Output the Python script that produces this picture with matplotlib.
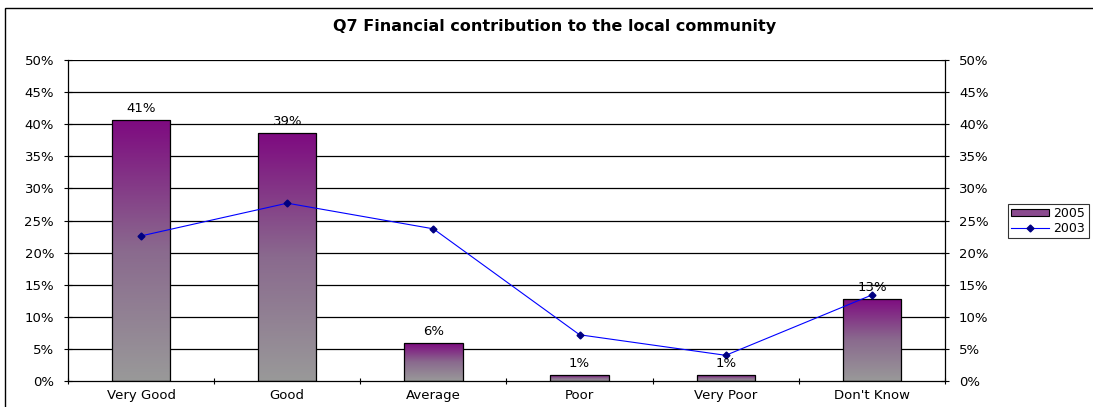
import numpy as np
import matplotlib
matplotlib.use("Agg")
import matplotlib.pyplot as plt
from matplotlib.patches import Rectangle
from matplotlib.lines import Line2D
from matplotlib.colors import LinearSegmentedColormap

categories = ["Very Good", "Good", "Average", "Poor", "Very Poor", "Don't Know"]
values_2005 = [40.6, 38.6, 5.9, 0.9, 0.9, 12.8]
labels_2005 = ["41%", "39%", "6%", "1%", "1%", "13%"]
values_2003 = [22.6, 27.7, 23.7, 7.2, 4.0, 13.4]
yticks = [0, 5, 10, 15, 20, 25, 30, 35, 40, 45, 50]

plt.rcParams["font.family"] = ["DejaVu Sans"]
FS = 9.5

W, H = 1093, 407
fig = plt.figure(figsize=(W / 100, H / 100), dpi=100)
ax = fig.add_axes([68 / W, 1 - 381 / H, (945 - 68) / W, (381 - 60) / H])

# outer chart frame
fig.patches.append(Rectangle((5 / W, -0.05), 1.0, 1 - 8 / H + 0.05,
                             transform=fig.transFigure, fill=False,
                             edgecolor="black", linewidth=1.0))

x = np.arange(len(categories))
bw = 0.4
grad = LinearSegmentedColormap.from_list("pg", ["#999999", "#8a6a8e", "#7e0a80"])
gimg = np.linspace(0, 1, 256).reshape(-1, 1)

for yv in yticks[1:]:
    ax.axhline(yv, color="black", linewidth=0.9, zorder=1)

bars = ax.bar(x, values_2005, width=bw, facecolor="none", edgecolor="black",
              linewidth=0.9, zorder=3)
for b, lab in zip(bars, labels_2005):
    x0, y0 = b.get_x(), b.get_y()
    w, h = b.get_width(), b.get_height()
    im = ax.imshow(gimg, extent=(x0, x0 + w, y0, y0 + h), origin="lower",
                   cmap=grad, aspect="auto", zorder=2, interpolation="bilinear")
    im.set_clip_path(Rectangle((x0, y0), w, h, transform=ax.transData))
    ax.text(x0 + w / 2, y0 + h + 0.8, lab, ha="center", va="bottom",
            fontsize=FS, zorder=5)

ax.set_aspect("auto")
ax.set_xlim(-0.5, len(categories) - 0.5)
ax.set_ylim(0, 50)

ax.plot(x, values_2003, color="#0000ff", linewidth=0.8, marker="D",
        markersize=3.5, markerfacecolor="#000080", markeredgecolor="#000080",
        zorder=4)

ax.set_yticks(yticks)
ax.set_yticklabels([f"{v}%" for v in yticks], fontsize=FS)
ax.set_xticks(x)
ax.set_xticklabels(categories, fontsize=FS)
ax.tick_params(axis="x", length=0, pad=6)
ax.set_xticks(np.arange(len(categories) + 1) - 0.5, minor=True)
ax.tick_params(axis="x", which="minor", length=4, direction="inout", width=0.8)
ax.tick_params(axis="y", length=6, direction="inout", width=0.8, pad=7)
ax.spines["top"].set_visible(False)
ax.spines["right"].set_visible(False)
ax.spines["left"].set_linewidth(0.9)
ax.spines["bottom"].set_linewidth(0.9)

ax2 = ax.twinx()
ax2.set_ylim(0, 50)
ax2.set_yticks(yticks)
ax2.set_yticklabels([f"{v}%" for v in yticks], fontsize=FS)
ax2.tick_params(axis="y", length=6, direction="inout", width=0.8, pad=7)
for s in ["top", "left", "bottom"]:
    ax2.spines[s].set_visible(False)
ax2.spines["right"].set_linewidth(0.9)

fig.text(555 / W, 1 - 27 / H, "Q7 Financial contribution to the local community",
         ha="center", va="center", fontsize=11.5, fontweight="bold")

handles = [Rectangle((0, 0), 1, 1, facecolor="#8a4a8e", edgecolor="black", linewidth=0.8),
           Line2D([], [], color="#0000ff", linewidth=0.8, marker="D", markersize=3.5,
                  markerfacecolor="#000080", markeredgecolor="#000080")]
leg = fig.legend(handles, ["2005", "2003"], loc="center left",
                 bbox_to_anchor=(1008 / W, 1 - 221 / H), fontsize=9,
                 frameon=True, fancybox=False, edgecolor="black",
                 borderpad=0.25, handlelength=3.0, handleheight=0.5,
                 handletextpad=0.4, labelspacing=0.15, borderaxespad=0)
leg.get_frame().set_linewidth(0.8)

fig.savefig("out.png", dpi=100)
